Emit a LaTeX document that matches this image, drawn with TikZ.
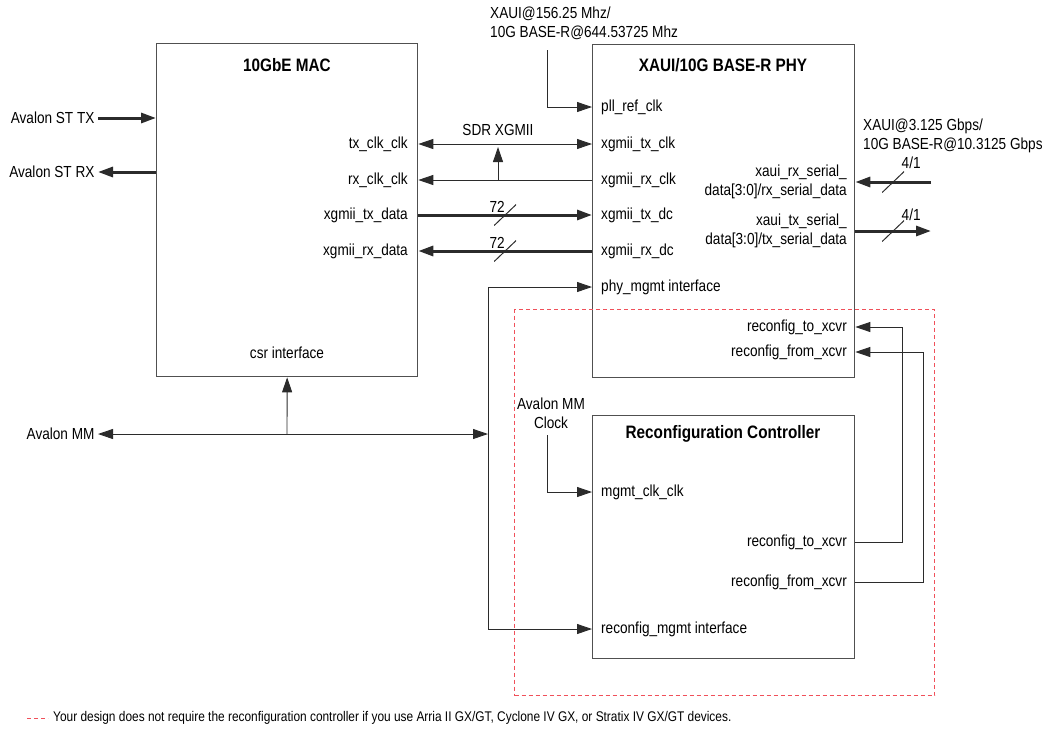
\documentclass[tikz,border=0pt]{standalone}
\usepackage{fontspec}
\setmainfont{Liberation Sans}[FakeStretch=0.85]
\usetikzlibrary{arrows.meta,positioning}
\definecolor{linegray}{HTML}{2B2B2B}
\definecolor{boxgray}{HTML}{505050}
\definecolor{dashred}{HTML}{F0505A}

\begin{document}
\begin{tikzpicture}[x=1pt,y=-1pt,>={Triangle[length=15pt,width=10pt]},font=\fontsize{16}{19}\selectfont]
  \tikzstyle{blk}=[draw=boxgray,line width=1.3pt,anchor=north west,inner sep=0pt]
  \tikzstyle{title}=[font=\fontsize{18}{21}\selectfont\bfseries]
  \tikzstyle{lport}=[anchor=west,inner sep=0pt,text height=10pt,text depth=2pt]
  \tikzstyle{rport}=[anchor=east,inner sep=0pt,text height=10pt,text depth=2pt]
  \tikzstyle{sig}=[draw=linegray,line width=0.9pt]
  \tikzstyle{bus}=[draw=linegray,line width=3pt]
  \tikzstyle{slash}=[inner sep=0pt,minimum width=22pt,minimum height=21pt,
    path picture={\draw[-,linegray,line width=1pt] (path picture bounding box.south west) -- (path picture bounding box.north east);}]
  \useasboundingbox (0,0) rectangle (1046,731);

  % blocks
  \node[blk,minimum width=261pt,minimum height=333pt] (mac) at (156,43) {};
  \node[blk,minimum width=262pt,minimum height=333pt] (phy) at (592,44) {};
  \node[blk,minimum width=262pt,minimum height=243pt] (rc) at (592,415) {};
  \node[draw=dashred,dashed,dash pattern=on 4pt off 3pt,line width=1.2pt,anchor=north west,inner sep=0pt,
    minimum width=420pt,minimum height=386pt] (opt) at (514,309) {};
  \node[title] (mactitle) at (287,65) {10GbE MAC};
  \node[title] (phytitle) at (723,65) {XAUI/10G BASE-R PHY};
  \node[title] (rctitle) at (723,434) {Reconfiguration Controller};

  % MAC ports
  \node[rport] (txclk) at (408,144) {tx\_clk\_clk};
  \node[rport] (rxclk) at (408,180) {rx\_clk\_clk};
  \node[rport] (txdata) at (408,215) {xgmii\_tx\_data};
  \node[rport] (rxdata) at (408,251) {xgmii\_rx\_data};
  \node (csr) at (287,353) {csr interface};

  % PHY ports
  \node[lport] (pll) at (601,107) {pll\_ref\_clk};
  \node[lport] (ptxclk) at (601,144) {xgmii\_tx\_clk};
  \node[lport] (prxclk) at (601,180) {xgmii\_rx\_clk};
  \node[lport] (ptxdc) at (601,215) {xgmii\_tx\_dc};
  \node[lport] (prxdc) at (601,251) {xgmii\_rx\_dc};
  \node[lport] (pmgmt) at (601,287) {phy\_mgmt interface};
  \node[anchor=east,inner sep=0pt,align=right] (xrx) at (847,182) {xaui\_rx\_serial\_\\data[3:0]/rx\_serial\_data};
  \node[anchor=east,inner sep=0pt,align=right] (xtx) at (847,231) {xaui\_tx\_serial\_\\data[3:0]/tx\_serial\_data};
  \node[rport] (prto) at (847,327) {reconfig\_to\_xcvr};
  \node[rport] (prfrom) at (847,352) {reconfig\_from\_xcvr};

  % reconfiguration controller ports
  \node[lport] (mclk) at (601,492) {mgmt\_clk\_clk};
  \node[rport] (rcto) at (847,542) {reconfig\_to\_xcvr};
  \node[rport] (rcfrom) at (847,582) {reconfig\_from\_xcvr};
  \node[lport] (rcmgmt) at (601,629) {reconfig\_mgmt interface};

  % outside labels
  \node[anchor=east] (sttx) at (98,118) {Avalon ST TX};
  \node[anchor=east] (strx) at (98,172) {Avalon ST RX};
  \node[anchor=east] (amm) at (98,434) {Avalon MM};
  \node (sdr) at (498,130) {SDR XGMII};
  \node[anchor=west,inner sep=0pt,align=left] (refclk) at (490,23) {XAUI@156.25 Mhz/\\10G BASE-R@644.53725 Mhz};
  \node[anchor=west,inner sep=0pt,align=left] (serclk) at (863,136) {XAUI@3.125 Gbps/\\10G BASE-R@10.3125 Gbps};
  \node[align=center,inner sep=0pt] (mmclk) at (551,413) {Avalon MM\\Clock};
  \coordinate (refclk-in) at (547,50);
  \coordinate (mmclk-in) at (547,435);
  \coordinate (serin) at (931,182);
  \coordinate (serout) at (931,231);
  \coordinate (mgmtbus) at (488,434);

  % MAC side
  \draw[bus,->] (sttx.east) -- (sttx -| mac.west);
  \draw[bus,->] (strx -| mac.west) -- (strx.east);
  \draw[sig,<->] (amm.east) -- (mgmtbus);
  \draw[sig,->] (amm -| csr) -- (mac.south);

  % XGMII
  \draw[sig,<->] (txclk -| mac.east) -- (ptxclk -| phy.west);
  \draw[sig,->] (prxclk -| phy.west) -- (rxclk -| mac.east);
  \draw[sig,->,shorten >=3pt] (sdr |- prxclk) -- (sdr |- ptxclk);
  \draw[bus,->] (txdata -| mac.east) -- node[slash] (w1) {} (ptxdc -| phy.west);
  \draw[bus,->] (prxdc -| phy.west) -- node[slash] (w2) {} (rxdata -| mac.east);
  \node at ([xshift=-8pt,yshift=8pt]w1.center) {72};
  \node at ([xshift=-8pt,yshift=8pt]w2.center) {72};

  % serial
  \draw[bus,->] (serin) -- node[slash] (w3) {} (xrx -| phy.east);
  \draw[bus,->] (xtx -| phy.east) -- node[slash] (w4) {} (serout);
  \node at ([xshift=18pt,yshift=19pt]w3.center) {4/1};
  \node at ([xshift=18pt,yshift=16pt]w4.center) {4/1};

  % clocks and management
  \draw[sig,->] (refclk-in) |- (pll -| phy.west);
  \draw[sig,->] (mmclk-in) |- (mclk -| rc.west);
  \draw[sig,->] (mgmtbus |- pmgmt) -- (pmgmt -| phy.west);
  \draw[sig,->] (mgmtbus |- pmgmt) |- (rcmgmt -| rc.west);
  \draw[sig,->] (rcto -| rc.east) -| (902,327) -- (prto -| phy.east);
  \draw[sig,->] (rcfrom -| rc.east) -| (923,352) -- (prfrom -| phy.east);

  % note
  \draw[dashred,line width=1pt,dash pattern=on 4pt off 3pt] (27,718) -- (48,718);
  \node[anchor=west,inner sep=0pt,font=\fontsize{14}{16}\selectfont] (note) at (53,718)
    {Your design does not require the reconfiguration controller if you use Arria II GX/GT, Cyclone IV GX, or Stratix IV GX/GT devices.};
\end{tikzpicture}
\end{document}
